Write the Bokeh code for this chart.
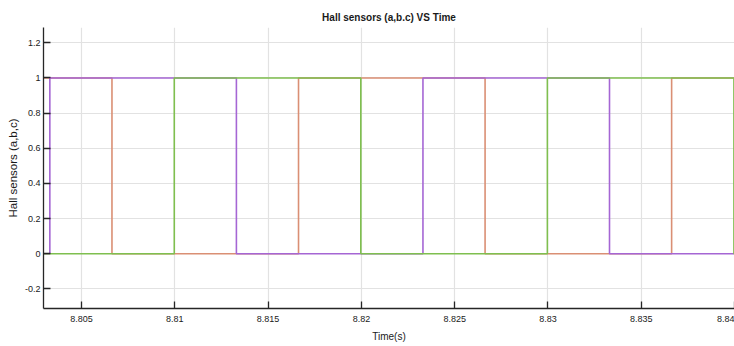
from bokeh.plotting import figure
from bokeh.models import Range1d, FixedTicker
from bokeh.embed import file_html
from bokeh.resources import INLINE

# Data (times in s, sensor states 0/1)
time_a = [8.8029, 8.80663, 8.81663, 8.82663, 8.83663, 8.8405]
hall_a = [1, 0, 1, 0, 1, 1]
time_b = [8.8029, 8.8033, 8.8133, 8.8233, 8.8333, 8.8405]
hall_b = [0, 1, 0, 1, 0, 0]
time_c = [8.8029, 8.80997, 8.81997, 8.82997, 8.83997, 8.8405]
hall_c = [0, 1, 0, 1, 0, 0]

x_ticks = [8.805, 8.81, 8.815, 8.82, 8.825, 8.83, 8.835, 8.84]
x_tick_labels = ["8.805", "8.81", "8.815", "8.82", "8.825", "8.83", "8.835", "8.84"]
y_ticks = [-0.2, 0, 0.2, 0.4, 0.6, 0.8, 1.0, 1.2]
y_tick_labels = ["-0.2", "0", "0.2", "0.4", "0.6", "0.8", "1", "1.2"]

color_a = "#DA8F74"
color_b = "#A566D4"
color_c = "#7FBF4F"

FONT = "Liberation Sans"

p = figure(width=734, height=346, output_backend="svg", toolbar_location=None,
           x_range=Range1d(8.80296, 8.8400), y_range=Range1d(-0.311, 1.287),
           min_border_left=43, min_border_right=0, min_border_top=27,
           min_border_bottom=38)
p.outline_line_color = None
p.background_fill_color = "white"

p.title.text = "Hall sensors (a,b.c) VS Time"
p.title.align = "center"
p.title.text_font = FONT
p.title.text_font_size = "10px"
p.title.text_font_style = "bold"
p.title.text_color = "#1a1a1a"
p.title.offset = 5

p.xaxis.ticker = FixedTicker(ticks=x_ticks)
p.xaxis.major_label_overrides = {t: l for t, l in zip(x_ticks, x_tick_labels)}
p.yaxis.ticker = FixedTicker(ticks=y_ticks)
p.yaxis.major_label_overrides = {t: l for t, l in zip(y_ticks, y_tick_labels)}

for ax in (p.xaxis, p.yaxis):
    ax.major_tick_in = 7
    ax.major_tick_out = 0
    ax.minor_tick_line_color = None
    ax.axis_line_color = "#262626"
    ax.axis_line_width = 1.3
    ax.major_tick_line_color = "#262626"
    ax.major_tick_line_width = 1.3
    ax.major_label_text_font = FONT
    ax.major_label_text_font_size = "9px"
    ax.major_label_text_color = "#1a1a1a"
    ax.axis_label_text_font = FONT
    ax.axis_label_text_font_style = "normal"
    ax.axis_label_text_color = "#1a1a1a"

p.xaxis.axis_label = "Time(s)"
p.xaxis.axis_label_text_font_size = "10px"
p.xaxis.major_label_standoff = 7
p.xaxis.axis_label_standoff = 6

p.yaxis.axis_label = "Hall sensors (a,b,c)"
p.yaxis.axis_label_text_font_size = "11.5px"
p.yaxis.major_label_standoff = 3
p.yaxis.axis_label_standoff = 3

p.xgrid.grid_line_color = "#e2e2e2"
p.ygrid.grid_line_color = "#e2e2e2"
p.xgrid.grid_line_width = 1.2
p.ygrid.grid_line_width = 1.2

p.step(time_a, hall_a, mode="after", line_color=color_a, line_width=1.6)
p.step(time_b, hall_b, mode="after", line_color=color_b, line_width=1.6)
p.step(time_c, hall_c, mode="after", line_color=color_c, line_width=1.6)

open("out.html", "w").write(file_html(p, INLINE))
